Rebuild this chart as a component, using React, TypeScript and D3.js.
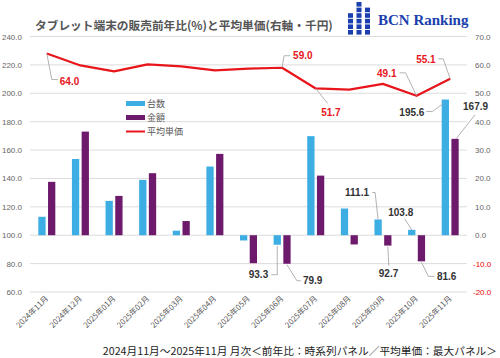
import React from 'react';
import * as d3 from 'd3';

// months on the x axis
const categories = [
  '2024年11月', '2024年12月', '2025年01月', '2025年02月', '2025年03月', '2025年04月', '2025年05月',
  '2025年06月', '2025年07月', '2025年08月', '2025年09月', '2025年10月', '2025年11月',
];
// year-over-year (%), left axis, bars start at 100
const unitsYoY = [113.0, 153.7, 124.2, 139.0, 103.2, 148.4, 96.3, 93.3, 169.8, 118.8, 111.1, 103.8, 195.6];
const salesYoY = [137.6, 173.0, 127.7, 143.7, 110.0, 157.3, 80.3, 79.9, 142.0, 93.5, 92.7, 81.6, 167.9];
// average price (thousand yen), right axis
const avgPrice = [64.0, 59.8, 57.7, 60.2, 59.5, 58.1, 58.7, 59.0, 51.7, 51.3, 53.3, 49.1, 55.1];

const leftTicks = [60, 80, 100, 120, 140, 160, 180, 200, 220, 240];
const rightTicks = [-20, -10, 0, 10, 20, 30, 40, 50, 60, 70];
const seriesNames = ['台数', '金額', '平均単価'];

const TITLE = 'タブレット端末の販売前年比(%)と平均単価(右軸・千円)';
const CAPTION = '2024月11月～2025年11月 月次＜前年比：時系列パネル／平均単価：最大パネル＞';

const W = 500;
const H = 358;
const BLUE = '#3daee3';
const PURPLE = '#6e1a6c';
const RED = '#e8151b';
const FONT = '"Liberation Sans", "Noto Sans CJK JP", sans-serif';
const JP = '"Noto Sans CJK JP", "Liberation Sans", sans-serif';

// callouts: which mark, where the text goes relative to it, leader path (relative)
const callouts = [
  { s: 2, i: 0, dx: 13, dy: 31, pts: [[0, 0], [5, 26], [11, 26]] },
  { s: 2, i: 7, dx: 11, dy: -8.5, pts: [[0, 0], [2, -12], [8, -12]] },
  { s: 2, i: 8, dx: 5.5, dy: 27.5, pts: [[0, 0], [12, 15]] },
  { s: 2, i: 11, dx: -39.5, dy: -19, pts: [[0, 0], [-11, -23], [-17, -23]] },
  { s: 2, i: 12, dx: -34, dy: -16, pts: [[0, 0], [-7, -20], [-12, -20]] },
  { s: 0, i: 12, dx: -46, dy: 16, pts: [[-2, 4], [-13, 12], [-19, 12]] },
  { s: 1, i: 12, dx: 8, dy: -28.5, pts: [[1, 0], [20, -24]] },
  { s: 0, i: 10, dx: -33, dy: -23.5, pts: [[0, 0], [-3, -27], [-6, -27]] },
  { s: 0, i: 11, dx: -23.5, dy: -14, pts: [[0, 0], [-7, -11]] },
  { s: 1, i: 10, dx: -9, dy: 31, pts: [[0, 1], [1, 20]] },
  { s: 1, i: 11, dx: 15.5, dy: 19, pts: [[0, 1], [7, 15], [13, 15]] },
  { s: 0, i: 7, dx: -28.5, dy: 33.5, pts: [[0, 1], [0, 30], [-6, 30]] },
  { s: 1, i: 7, dx: 16, dy: 20.5, pts: [[0, 1], [10, 17], [14, 17]] },
];

// BCN logo dots: column heights like a small bar chart
const logoCols = [[2, 3, 4, 5], [0, 1, 2, 3, 4, 5], [1, 2, 3, 4, 5]];

const App = () => {
  const x = d3.scaleBand().domain(categories).range([30, 467]);
  const yL = d3.scaleLinear().domain([60, 240]).range([292, 36.5]);
  const yR = d3.scaleLinear().domain([-20, 70]).range([292, 36.5]);
  const inner = d3.scaleBand().domain(seriesNames.slice(0, 2)).range([-8.5, 8.5]).paddingInner(0.25);
  const cx = (i: number) => (x(categories[i]) as number) + x.bandwidth() / 2;
  const base = yL(100);

  const line = d3.line<number>()
    .x((_, i) => cx(i))
    .y((d) => yR(d));

  const barSeries = [
    { name: seriesNames[0], data: unitsYoY, color: BLUE },
    { name: seriesNames[1], data: salesYoY, color: PURPLE },
  ];

  const anchor = (s: number, i: number) => {
    if (s === 2) return [cx(i), yR(avgPrice[i])];
    const v = s === 0 ? unitsYoY[i] : salesYoY[i];
    const bx = cx(i) + (inner(seriesNames[s]) as number) + inner.bandwidth() / 2;
    return [bx, yL(v)];
  };

  return (
    <svg width={W} height={H} style={{ position: 'absolute', left: 0, top: 0, background: '#fff' }}>
      {/* title */}
      <text x={35} y={29.5} fontFamily={JP} fontSize={11.7} fontWeight="bold" fill="#555">{TITLE}</text>

      {/* logo */}
      {logoCols.map((rows, c) => rows.map((r) => (
        <rect key={`l${c}-${r}`} x={348 + c * 8.5} y={2 + r * 5.6} width={5} height={4.6} fill="#1b3fae" />
      )))}
      <text x={378} y={25} fontFamily='"Liberation Serif", serif' fontSize={15} fontWeight="bold" fill="#1b3fae">BCN Ranking</text>

      {/* grid */}
      {leftTicks.map((t) => (
        <line key={`g${t}`} x1={30} x2={467} y1={yL(t)} y2={yL(t)} stroke="#dcdcdc" strokeWidth={1} />
      ))}

      {/* axes labels */}
      {leftTicks.map((t) => (
        <text key={`l${t}`} x={22} y={yL(t) + 3} textAnchor="end" fontFamily={FONT} fontSize={8} fill="#666">{t.toFixed(1)}</text>
      ))}
      {rightTicks.map((t) => (
        <text key={`r${t}`} x={t < 0 ? 473 : 475} y={yR(t) + 3} fontFamily={FONT} fontSize={8} fill={t < 0 ? '#e00' : '#666'}>{t.toFixed(1)}</text>
      ))}
      {categories.map((c, i) => (
        <text key={c} transform={`translate(${cx(i) + 2},${299}) rotate(-45)`} textAnchor="end" fontFamily={JP} fontSize={7.8} fill="#555">{c}</text>
      ))}

      {/* bars */}
      {barSeries.map((s) => s.data.map((v, i) => (
        <rect
          key={`${s.name}${i}`}
          x={cx(i) + (inner(s.name) as number)}
          width={inner.bandwidth()}
          y={Math.min(yL(v), base)}
          height={Math.abs(yL(v) - base)}
          fill={s.color}
        />
      )))}

      {/* average price line */}
      <path d={line(avgPrice) as string} fill="none" stroke={RED} strokeWidth={2.2} strokeLinejoin="round" />

      {/* callouts */}
      {callouts.map((c, k) => {
        const [ax, ay] = anchor(c.s, c.i);
        const v = c.s === 0 ? unitsYoY[c.i] : c.s === 1 ? salesYoY[c.i] : avgPrice[c.i];
        const pts = c.pts.map(([px, py]) => [ax + px, ay + py] as [number, number]);
        return (
          <g key={`c${k}`}>
            <path d={d3.line()(pts) as string} fill="none" stroke="#a0a0a0" strokeWidth={0.8} />
            <text x={ax + c.dx} y={ay + c.dy} fontFamily={FONT} fontSize={10} fontWeight="bold" fill={c.s === 2 ? RED : '#333'}>{v.toFixed(1)}</text>
          </g>
        );
      })}

      {/* legend */}
      {seriesNames.map((n, k) => (
        <g key={n} transform={`translate(126,${103.5 + k * 14})`}>
          {k < 2
            ? <rect x={0} y={-2.5} width={19} height={5} fill={k === 0 ? BLUE : PURPLE} />
            : <line x1={0} x2={19} y1={0} y2={0} stroke={RED} strokeWidth={2} />}
          <text x={21} y={3.2} fontFamily={JP} fontSize={9} fill="#555">{n}</text>
        </g>
      ))}

      {/* caption */}
      <text x={497} y={354.5} textAnchor="end" fontFamily={JP} fontSize={10.7} fill="#222">{CAPTION}</text>
    </svg>
  );
};

export default App;
